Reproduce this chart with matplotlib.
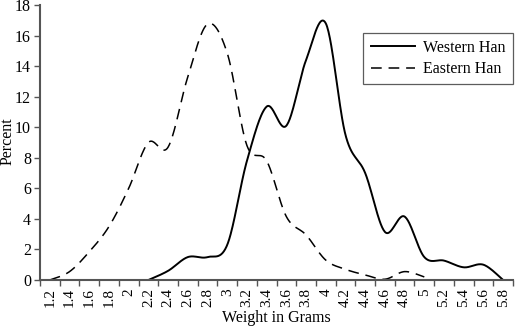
import numpy as np
import matplotlib
matplotlib.use("Agg")
import matplotlib.pyplot as plt

plt.rcParams['font.family'] = ['Liberation Serif', 'DejaVu Serif']

weights = ['1.2', '1.4', '1.6', '1.8', '2', '2.2', '2.4', '2.6', '2.8', '3',
           '3.2', '3.4', '3.6', '3.8', '4', '4.2', '4.4', '4.6', '4.8', '5',
           '5.2', '5.4', '5.6', '5.8']
nan = np.nan
western_han = [nan, nan, nan, nan, nan,
               0, 0.6, 1.5, 1.5, 2.3, 7.8, 11.35, 10.1, 14.4, 16.8, 9.5,
               7.0, 3.15, 4.15, 1.5, 1.27, 0.83, 1.0, 0]
eastern_han = [0, 0.55, 1.85, 3.5, 6.0, 9.0, 8.7, 13.3, 16.75, 14.85, 8.8,
               7.8, 4.15, 2.95, 1.3, 0.7, 0.33, 0.05, 0.55, 0.2,
               nan, nan, nan, nan]
y_ticks = [0, 2, 4, 6, 8, 10, 12, 14, 16, 18]


def smooth(xs, ys, n=30):
    """Excel-style smoothed line (cubic Bezier, Catmull-Rom control points)."""
    xs = np.asarray(xs, float)
    ys = np.asarray(ys, float)
    m = ~np.isnan(ys)
    P = np.column_stack([xs[m], ys[m]])
    out = []
    for i in range(len(P) - 1):
        p0 = P[i - 1] if i > 0 else P[i]
        p1 = P[i]
        p2 = P[i + 1]
        p3 = P[i + 2] if i + 2 < len(P) else P[i + 1]
        c1 = p1 + (p2 - p0) / 6.0
        c2 = p2 - (p3 - p1) / 6.0
        t = np.linspace(0, 1, n)[:, None]
        seg = ((1 - t) ** 3) * p1 + 3 * ((1 - t) ** 2) * t * c1 + \
            3 * (1 - t) * t ** 2 * c2 + t ** 3 * p2
        out.append(seg if i == 0 else seg[1:])
    c = np.vstack(out)
    return c[:, 0], c[:, 1]


fig = plt.figure(figsize=(5.15, 3.32), dpi=100)
ax = fig.add_axes([40 / 515, 52 / 332, 473 / 515, 275 / 332])

x = np.arange(len(weights))
wx, wy = smooth(x, western_han)
ex, ey = smooth(x, eastern_han)
ax.plot(wx, wy, color='black', lw=1.4, label='Western Han')
ax.plot(ex, ey, color='black', lw=1.1, dashes=(7, 4.5), label='Eastern Han')

ax.set_xlim(-0.5, len(weights) - 0.5)
ax.set_ylim(0, 18)
ax.set_yticks(y_ticks)
ax.set_yticklabels([str(v) for v in y_ticks], fontsize=11.5)
ax.set_xticks(x)
ax.set_xticklabels(weights, rotation=90, fontsize=11)
ax.set_xticks(np.arange(len(weights) + 1) - 0.5, minor=True)
ax.tick_params(axis='x', which='major', length=0, pad=6)
ax.tick_params(axis='x', which='minor', length=4, width=1, color='#555555', direction='out')
ax.tick_params(axis='y', length=4, width=1, color='#555555', direction='out', pad=2.5)

for s in ['top', 'right']:
    ax.spines[s].set_visible(False)
for s in ['left', 'bottom']:
    ax.spines[s].set_color('#555555')
    ax.spines[s].set_linewidth(1.5)

ax.set_xlabel('Weight in Grams', fontsize=11.5, labelpad=2)
fig.text(8 / 515, 1 - 141 / 332, 'Percent', rotation=90, fontsize=11.5,
         ha='center', va='center')

leg = ax.legend(loc='upper right', bbox_to_anchor=(1.0, 0.9), fontsize=11.5,
                frameon=True, fancybox=False, edgecolor='#333333',
                handlelength=2.8, borderpad=0.45, labelspacing=0.35,
                handletextpad=0.5, borderaxespad=0)
leg.get_frame().set_linewidth(0.9)

fig.savefig('out.png', dpi=100)
